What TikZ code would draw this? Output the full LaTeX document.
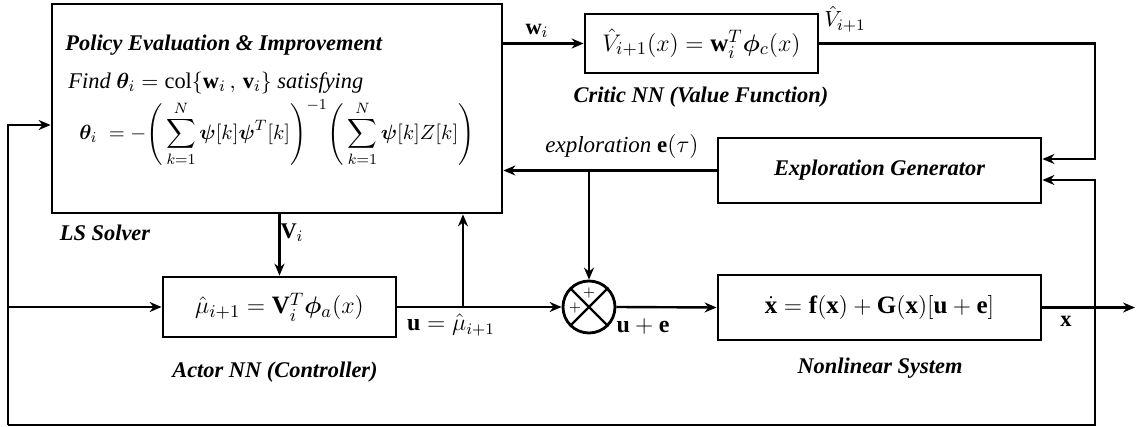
\documentclass[tikz,border=0pt]{standalone}
\usepackage{amsmath}
\usepackage{bm}
\usepackage{fontspec}
\setmainfont{Liberation Serif}
\usetikzlibrary{arrows.meta}

\begin{document}
\begin{tikzpicture}[x=0.5pt,y=-0.5pt,
    blk/.style={draw, line width=1.4pt, inner sep=0pt},
    lbl/.style={font=\fontsize{11.2}{13}\selectfont\bfseries\itshape},
    txt/.style={font=\fontsize{11.2}{13}\selectfont, inner sep=0pt},
    eqn/.style={font=\fontsize{12.5}{15}\selectfont},
    wire/.style={line width=1.2pt},
    sig/.style={wire, -{Stealth[length=6pt,width=5pt]}}]
    \useasboundingbox (0,0) rectangle (1142,427);

    % LS solver block
    \node[blk, minimum width=225pt, minimum height=104.5pt] (ls) at (277,108.5) {};
    \node[txt, lbl, anchor=west] (lstitle) at (65,45) {Policy Evaluation \& Improvement};
    \node[txt, anchor=west] (lsfind) at (68,83) {\itshape Find $\bm{\theta}_i = \mathrm{col}\{\mathbf{w}_i\,,\,\mathbf{v}_i\}$ satisfying};
    \node[txt, anchor=west, scale=0.94, transform shape] (lseq) at (79,133) {$\displaystyle \bm{\theta}_i \;= -\Bigg(\sum_{k=1}^{N}\bm{\psi}[k]\bm{\psi}^T[k]\Bigg)^{-1}\Bigg(\sum_{k=1}^{N}\bm{\psi}[k]Z[k]\Bigg)$};
    \node[txt, lbl] (lsname) at (105,233) {LS Solver};

    % critic, exploration, actor, plant
    \node[blk, eqn, minimum width=116.5pt, minimum height=29.5pt] (critic) at (701.5,43.5) {$\hat{V}_{i+1}(x) = \mathbf{w}_i^T\bm{\phi}_c(x)$};
    \node[txt, lbl] (criticname) at (701,97) {Critic NN (Value Function)};
    \node[blk, lbl, minimum width=161.5pt, minimum height=32.5pt] (explore) at (879.5,170.5) {Exploration Generator};
    \node[blk, eqn, minimum width=116.5pt, minimum height=30pt] (actor) at (279.5,307) {$\hat{\mu}_{i+1} = \mathbf{V}_i^T\bm{\phi}_a(x)$};
    \node[txt, lbl] (actorname) at (275,372) {Actor NN (Controller)};
    \node[blk, eqn, minimum width=161.5pt, minimum height=32.5pt] (sys) at (879.5,307.5) {$\dot{\mathbf{x}} = \mathbf{f}(\mathbf{x}) + \mathbf{G}(\mathbf{x})[\mathbf{u}+\mathbf{e}]$};
    \node[txt, lbl] (sysname) at (880,368) {Nonlinear System};

    % summing junction
    \node[circle, draw, line width=1.4pt, minimum size=26pt, inner sep=0pt] (sum) at (589,307) {};
    \draw[wire] (sum.north west) -- (sum.south east) (sum.north east) -- (sum.south west);
    \node[inner sep=0pt, font=\scriptsize] (plustop) at (589,293) {$+$};
    \node[inner sep=0pt, font=\scriptsize] (plusleft) at (575,308) {$+$};

    \coordinate (fbr) at (1095,307.5);
    \coordinate (xout) at (1135,307.5);
    \coordinate (fbl) at (8,425);
    \coordinate (utap) at (463,307);

    % connectors
    \draw[sig] (ls.east |- critic.west) -- (critic.west);
    \draw[sig] (critic.east) -- (critic.east -| fbr) |- ([yshift=5.75pt]explore.east);
    \draw[sig] (explore.west) -- (explore.west -| ls.east);
    \draw[sig] (explore.west -| sum.north) -- (sum.north);
    \draw[sig] (ls.south -| actor.north) -- (actor.north);
    \draw[sig] (actor.east) -- (sum.west);
    \draw[sig] (utap) -- (utap |- ls.south);
    \draw[sig] (sum.east) -- (sys.west);
    \draw[sig] (sys.east) -- (xout);
    \draw[sig] (fbr) |- ([yshift=-4.75pt]explore.east);
    \draw[wire] (fbr) |- (fbl);
    \draw[sig] (fbl) |- ([yshift=-8.25pt]ls.west);
    \draw[sig] (fbl |- actor.west) -- (actor.west);

    % signal labels
    \node[txt] (wlbl) at (537,31) {$\mathbf{w}_i$};
    \node[txt] (vhatlbl) at (845,19) {$\hat{V}_{i+1}$};
    \node[txt, font=\fontsize{11.5}{14}\selectfont\itshape] (explbl) at (622,147) {exploration $\mathbf{e}(\tau)$};
    \node[txt] (vilbl) at (292,233) {$\mathbf{V}_i$};
    \node[txt, font=\fontsize{12}{14}\selectfont] (ulbl) at (451,325) {$\mathbf{u} = \hat{\mu}_{i+1}$};
    \node[txt, font=\fontsize{12}{14}\selectfont] (uelbl) at (643,327) {$\mathbf{u} + \mathbf{e}$};
    \node[txt] (xlbl) at (1066,321) {$\mathbf{x}$};
\end{tikzpicture}
\end{document}
